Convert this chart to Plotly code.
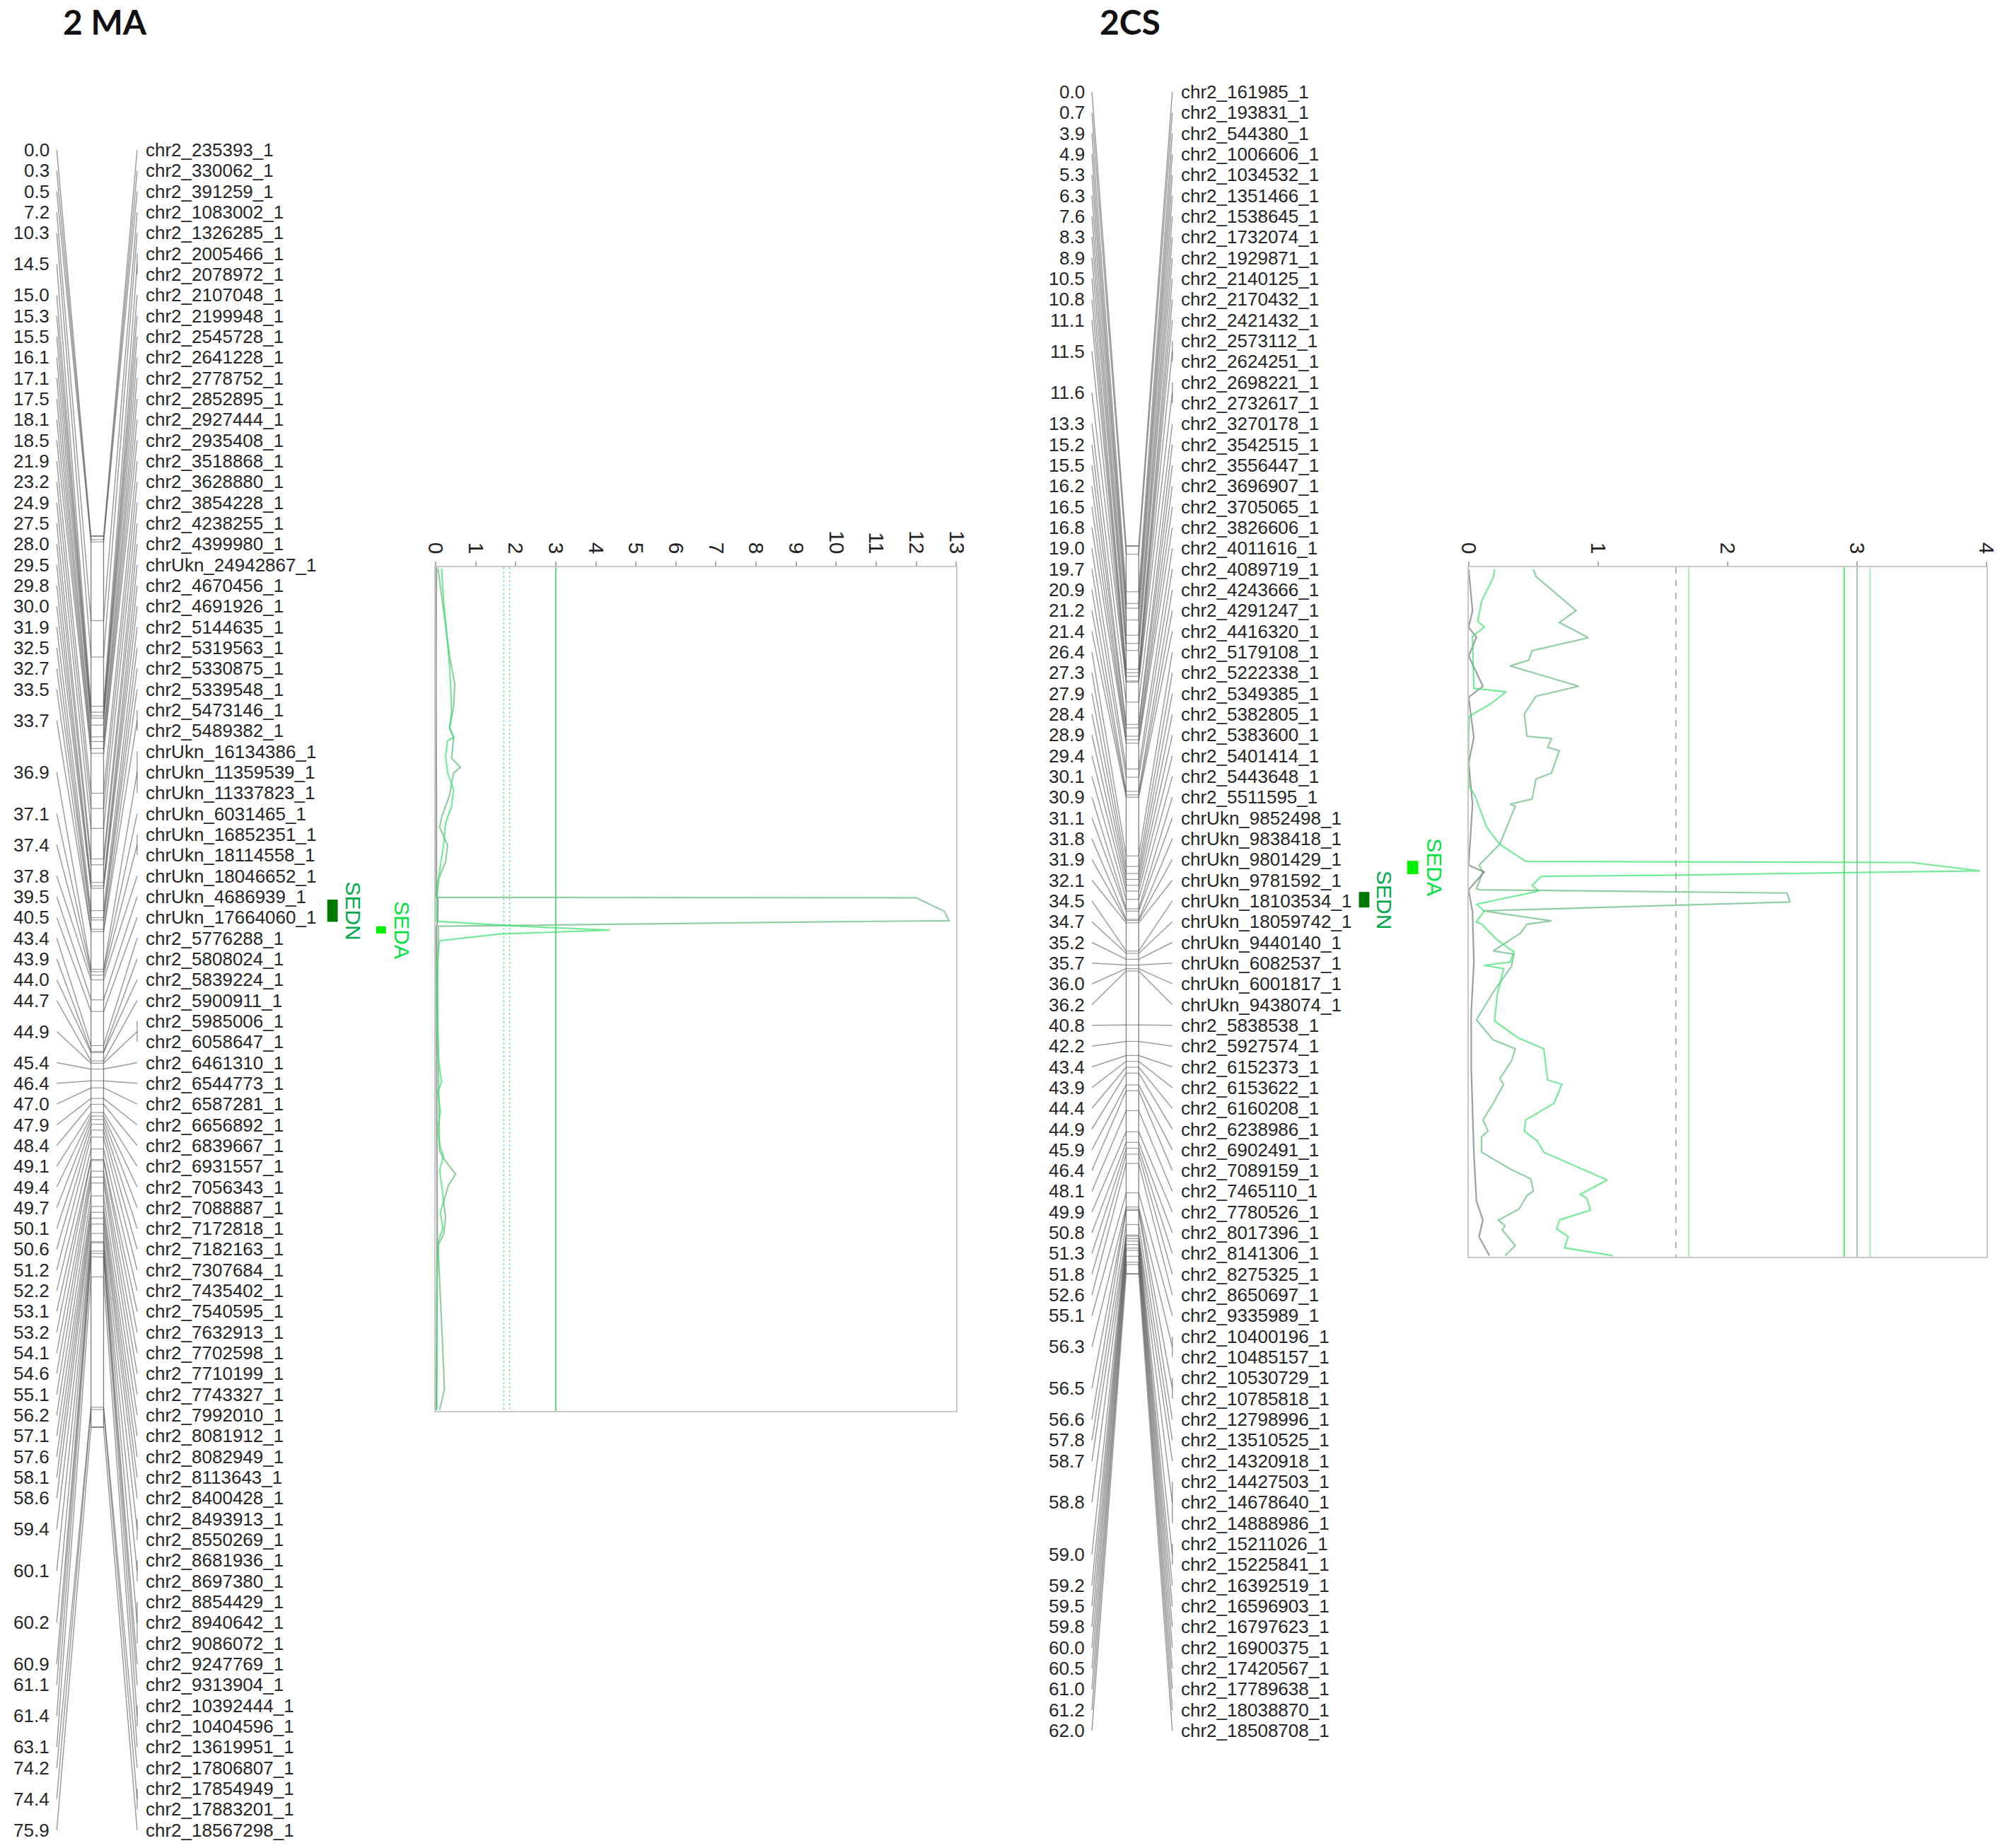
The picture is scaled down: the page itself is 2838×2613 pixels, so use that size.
import plotly.graph_objects as go

# ---------------------------------------------------------------- data
map1_title = "2 MA"
map1_markers = [
    "chr2_235393_1", "chr2_330062_1", "chr2_391259_1", "chr2_1083002_1", "chr2_1326285_1",
    "chr2_2005466_1", "chr2_2078972_1", "chr2_2107048_1", "chr2_2199948_1", "chr2_2545728_1",
    "chr2_2641228_1", "chr2_2778752_1", "chr2_2852895_1", "chr2_2927444_1", "chr2_2935408_1",
    "chr2_3518868_1", "chr2_3628880_1", "chr2_3854228_1", "chr2_4238255_1", "chr2_4399980_1",
    "chrUkn_24942867_1", "chr2_4670456_1", "chr2_4691926_1", "chr2_5144635_1", "chr2_5319563_1",
    "chr2_5330875_1", "chr2_5339548_1", "chr2_5473146_1", "chr2_5489382_1", "chrUkn_16134386_1",
    "chrUkn_11359539_1", "chrUkn_11337823_1", "chrUkn_6031465_1", "chrUkn_16852351_1", "chrUkn_18114558_1",
    "chrUkn_18046652_1", "chrUkn_4686939_1", "chrUkn_17664060_1", "chr2_5776288_1", "chr2_5808024_1",
    "chr2_5839224_1", "chr2_5900911_1", "chr2_5985006_1", "chr2_6058647_1", "chr2_6461310_1",
    "chr2_6544773_1", "chr2_6587281_1", "chr2_6656892_1", "chr2_6839667_1", "chr2_6931557_1",
    "chr2_7056343_1", "chr2_7088887_1", "chr2_7172818_1", "chr2_7182163_1", "chr2_7307684_1",
    "chr2_7435402_1", "chr2_7540595_1", "chr2_7632913_1", "chr2_7702598_1", "chr2_7710199_1",
    "chr2_7743327_1", "chr2_7992010_1", "chr2_8081912_1", "chr2_8082949_1", "chr2_8113643_1",
    "chr2_8400428_1", "chr2_8493913_1", "chr2_8550269_1", "chr2_8681936_1", "chr2_8697380_1",
    "chr2_8854429_1", "chr2_8940642_1", "chr2_9086072_1", "chr2_9247769_1", "chr2_9313904_1",
    "chr2_10392444_1", "chr2_10404596_1", "chr2_13619951_1", "chr2_17806807_1", "chr2_17854949_1",
    "chr2_17883201_1", "chr2_18567298_1",
]
map1_cm = [
    0.0, 0.3, 0.5, 7.2, 10.3, 14.5, 14.5, 15.0, 15.3, 15.5,
    16.1, 17.1, 17.5, 18.1, 18.5, 21.9, 23.2, 24.9, 27.5, 28.0,
    29.5, 29.8, 30.0, 31.9, 32.5, 32.7, 33.5, 33.7, 33.7, 36.9,
    36.9, 36.9, 37.1, 37.4, 37.4, 37.8, 39.5, 40.5, 43.4, 43.9,
    44.0, 44.7, 44.9, 44.9, 45.4, 46.4, 47.0, 47.9, 48.4, 49.1,
    49.4, 49.7, 50.1, 50.6, 51.2, 52.2, 53.1, 53.2, 54.1, 54.6,
    55.1, 56.2, 57.1, 57.6, 58.1, 58.6, 59.4, 59.4, 60.1, 60.1,
    60.2, 60.2, 60.2, 60.9, 61.1, 61.4, 61.4, 63.1, 74.2, 74.4,
    74.4, 75.9,
]

map2_title = "2CS"
map2_markers = [
    "chr2_161985_1", "chr2_193831_1", "chr2_544380_1", "chr2_1006606_1", "chr2_1034532_1",
    "chr2_1351466_1", "chr2_1538645_1", "chr2_1732074_1", "chr2_1929871_1", "chr2_2140125_1",
    "chr2_2170432_1", "chr2_2421432_1", "chr2_2573112_1", "chr2_2624251_1", "chr2_2698221_1",
    "chr2_2732617_1", "chr2_3270178_1", "chr2_3542515_1", "chr2_3556447_1", "chr2_3696907_1",
    "chr2_3705065_1", "chr2_3826606_1", "chr2_4011616_1", "chr2_4089719_1", "chr2_4243666_1",
    "chr2_4291247_1", "chr2_4416320_1", "chr2_5179108_1", "chr2_5222338_1", "chr2_5349385_1",
    "chr2_5382805_1", "chr2_5383600_1", "chr2_5401414_1", "chr2_5443648_1", "chr2_5511595_1",
    "chrUkn_9852498_1", "chrUkn_9838418_1", "chrUkn_9801429_1", "chrUkn_9781592_1", "chrUkn_18103534_1",
    "chrUkn_18059742_1", "chrUkn_9440140_1", "chrUkn_6082537_1", "chrUkn_6001817_1", "chrUkn_9438074_1",
    "chr2_5838538_1", "chr2_5927574_1", "chr2_6152373_1", "chr2_6153622_1", "chr2_6160208_1",
    "chr2_6238986_1", "chr2_6902491_1", "chr2_7089159_1", "chr2_7465110_1", "chr2_7780526_1",
    "chr2_8017396_1", "chr2_8141306_1", "chr2_8275325_1", "chr2_8650697_1", "chr2_9335989_1",
    "chr2_10400196_1", "chr2_10485157_1", "chr2_10530729_1", "chr2_10785818_1", "chr2_12798996_1",
    "chr2_13510525_1", "chr2_14320918_1", "chr2_14427503_1", "chr2_14678640_1", "chr2_14888986_1",
    "chr2_15211026_1", "chr2_15225841_1", "chr2_16392519_1", "chr2_16596903_1", "chr2_16797623_1",
    "chr2_16900375_1", "chr2_17420567_1", "chr2_17789638_1", "chr2_18038870_1", "chr2_18508708_1",
]
map2_cm = [
    0.0, 0.7, 3.9, 4.9, 5.3, 6.3, 7.6, 8.3, 8.9, 10.5,
    10.8, 11.1, 11.5, 11.5, 11.6, 11.6, 13.3, 15.2, 15.5, 16.2,
    16.5, 16.8, 19.0, 19.7, 20.9, 21.2, 21.4, 26.4, 27.3, 27.9,
    28.4, 28.9, 29.4, 30.1, 30.9, 31.1, 31.8, 31.9, 32.1, 34.5,
    34.7, 35.2, 35.7, 36.0, 36.2, 40.8, 42.2, 43.4, 43.9, 44.4,
    44.9, 45.9, 46.4, 48.1, 49.9, 50.8, 51.3, 51.8, 52.6, 55.1,
    56.3, 56.3, 56.5, 56.5, 56.6, 57.8, 58.7, 58.8, 58.8, 58.8,
    59.0, 59.0, 59.2, 59.5, 59.8, 60.0, 60.5, 61.0, 61.2, 62.0,
]

# LOD profiles for map 1 (position in cM, LOD)
lod1_sedn_cm = [0.1, 4, 8, 10.5, 12.5, 14.5, 15.3, 17.2, 18.0, 18.5, 20.5, 22.5, 23.4, 25.0, 26.5,
                28.0, 29.70, 29.74, 30.96, 31.8, 31.9, 32.3, 34.0, 38.0, 42.0, 46.0, 50.0, 52.5,
                53.2, 54.6, 55.6, 57.1, 58.5, 60.0, 61.0, 64.0, 68.0, 72.0, 74.0, 75.8]
lod1_sedn = [0.06, 0.2, 0.35, 0.48, 0.45, 0.35, 0.45, 0.40, 0.62, 0.45, 0.35, 0.15, 0.10, 0.30, 0.25,
             0.08, 0.03, 12.0, 12.7, 12.82, 9.8, 0.07, 0.06, 0.05, 0.06, 0.08, 0.1, 0.1,
             0.2, 0.5, 0.32, 0.2, 0.25, 0.2, 0.06, 0.1, 0.16, 0.2, 0.22, 0.1]
lod1_seda_cm = [0.1, 3, 6, 9, 11, 13, 14.4, 15.3, 15.6, 17, 18.5, 20, 21.5, 23, 25, 27, 28.5, 30,
                31.85, 32.3, 32.65, 33.0, 33.6, 35, 38, 42, 44.5, 46.3, 47.2, 49, 50.5, 52, 53.0,
                54.2, 55.5, 57.0, 58.0, 59.5, 60.5, 62, 66, 70, 74, 75.8]
lod1_seda = [0.15, 0.2, 0.28, 0.35, 0.38, 0.4, 0.35, 0.45, 0.3, 0.25, 0.3, 0.45, 0.4, 0.25, 0.2, 0.12,
             0.05, 0.02, 0.02, 2.1, 4.35, 1.6, 0.1, 0.05, 0.04, 0.05, 0.08, 0.15, 0.06, 0.12, 0.05,
             0.1, 0.2, 0.1, 0.15, 0.2, 0.12, 0.18, 0.08, 0.05, 0.03, 0.04, 0.03, 0.03]
lod1_other_cm = [0, 10, 20, 29.6, 29.9, 31.9, 32.4, 40, 50, 60, 70, 75.8]
lod1_other = [0.02, 0.01, 0.02, 0.02, 0.06, 0.05, 0.02, 0.02, 0.03, 0.04, 0.02, 0.02]
lod1_ticks = list(range(0, 14))
lod1_max = 13
lod1_thr_dotted = [1.7, 1.85]
lod1_thr_solid = [3.0]

# LOD profiles for map 2
lod2_sedn_cm = [0.19, 0.83, 3.9, 4.96, 6.34, 7.5, 8.35, 8.88, 10.7, 11.6, 13.2, 15.2, 15.4, 16.2, 16.5,
                18.5, 19.05, 20.85, 21.3, 21.5, 24.9, 26.8, 27.4, 28.9, 29.0, 29.3, 30.1, 30.9, 31.8,
                32.1, 32.9, 34.5, 34.8, 35.9, 38.2, 40.7, 42.5, 43.3, 44.4, 46.0, 46.5, 48.2, 49.7,
                50.7, 51.2, 52.6, 54.1, 55.0, 56.1, 56.5, 57.7, 58.7, 59.2, 59.6, 61.0, 61.9]
lod2_sedn = [0.50, 0.52, 0.83, 0.70, 0.925, 0.49, 0.465, 0.32, 0.85, 0.52, 0.43, 0.45, 0.64, 0.61, 0.70,
             0.64, 0.52, 0.49, 0.32, 0.36, 0.24, 0.08, 0.11, 0.06, 0.08, 2.46, 2.48, 0.11, 0.64,
             0.45, 0.4, 0.19, 0.35, 0.33, 0.19, 0.06, 0.19, 0.36, 0.33, 0.24, 0.27, 0.19, 0.11,
             0.15, 0.10, 0.10, 0.32, 0.48, 0.50, 0.45, 0.39, 0.23, 0.28, 0.26, 0.36, 0.28]
lod2_seda_cm = [0.19, 0.93, 3.05, 4.85, 5.38, 6.23, 10.9, 11.2, 12.2, 13.4, 15.3, 19.6, 20.6, 23.4, 24.9,
                26.45, 26.55, 27.3, 27.7, 27.8, 28.6, 29.1, 29.4, 30.3, 30.9, 31.9, 32.1, 33.5, 34.6,
                35.5, 35.8, 36.1, 38.5, 40.8, 42.3, 43.3, 46.1, 46.5, 48.2, 49.7, 50.7, 51.6, 52.6,
                55.1, 56.4, 56.7, 57.8, 58.7, 59.5, 60.2, 61.2, 61.9]
lod2_seda = [0.2, 0.19, 0.1, 0.07, 0.12, 0.03, 0.04, 0.29, 0.18, 0.005, 0.0, 0.0, 0.05, 0.14, 0.24,
             0.44, 3.42, 3.95, 1.50, 0.56, 0.49, 0.54, 0.43, 0.06, 0.12, 0.06, 0.1, 0.22, 0.35,
             0.32, 0.12, 0.27, 0.22, 0.2, 0.38, 0.58, 0.61, 0.72, 0.66, 0.44, 0.43, 0.53, 0.58,
             1.07, 0.86, 0.91, 0.94, 0.70, 0.68, 0.77, 0.74, 1.11]
lod2_other_cm = [0.19, 3.9, 5.4, 6.3, 8.0, 10.7, 11.7, 15.3, 17.6, 21.3, 26.8, 27.4, 29.0, 31.0, 35.6,
                 40, 45, 52.6, 57, 58.7, 60.2, 61.9]
lod2_other = [0.0, 0.03, 0.0, 0.06, 0.0, 0.11, 0.0, 0.04, 0.0, 0.03, 0.0, 0.12, 0.0, 0.03, 0.04,
              0.02, 0.02, 0.04, 0.06, 0.11, 0.08, 0.16]
lod2_ticks = [0, 1, 2, 3, 4]
lod2_max = 4
lod2_thr_gray_dash = [1.6]
lod2_thr_light = [1.7, 3.1]
lod2_thr_green = [2.9]
lod2_thr_gray = [3.0]

# QTL intervals (cM on the LOD scale)
qtl1_names = ["SEDN", "SEDA"]
qtl1_start = [29.9, 32.3]
qtl1_end = [31.9, 32.95]
qtl2_names = ["SEDA", "SEDN"]
qtl2_start = [26.4, 29.2]
qtl2_end = [27.6, 30.6]

# ---------------------------------------------------------------- layout / styles
W, H = 2838, 2613
STEP = 29.33          # px between marker names
PX_CM = 16.6          # px per cM on chromosome bar
LBL_R, CONN_L, BAR_L, BAR_R, CONN_R, NAME_X = 72, 80, 129, 147, 195, 205
DX1, DX2 = -15, 1466  # horizontal placement of the two maps
LINE_COL = "rgba(85,85,85,0.58)"
TXT_COL = "#262626"
FONT = "Liberation Sans, Arial, sans-serif"
FS = 26

C_SEDN_LINE = "rgba(110,190,135,0.75)"
C_SEDA_LINE = "rgba(60,225,110,0.7)"
C_OTHER_LINE = "rgba(120,130,122,0.75)"
C_SEDN_BOX = "#007a00"
C_SEDN_TXT = "#00a84a"
C_SEDA_BOX = "#00f000"
C_SEDA_TXT = "#00e040"
QTL_COL = {"SEDN": (C_SEDN_BOX, C_SEDN_TXT), "SEDA": (C_SEDA_BOX, C_SEDA_TXT)}

fig = go.Figure()
annotations = []
shapes = []


def add_line(xs, ys, color=LINE_COL, width=1.5, xa="x", ya="y", dash=None):
    fig.add_trace(go.Scatter(x=xs, y=ys, mode="lines", xaxis=xa, yaxis=ya,
                             line=dict(color=color, width=width, dash=dash),
                             hoverinfo="skip", showlegend=False))


def draw_map(markers, cms, title, dx, slot_top, bar_top, title_x):
    n = len(markers)
    slot_y = [slot_top + i * STEP for i in range(n)]

    def bar_y(c):
        return bar_top + c * PX_CM

    groups = []
    i = 0
    while i < n:
        j = i
        while j + 1 < n and cms[j + 1] == cms[i]:
            j += 1
        groups.append((i, j))
        i = j + 1
    for (i, j) in groups:
        c = cms[i]
        ym = (slot_y[i] + slot_y[j]) / 2
        by = bar_y(c)
        add_line([dx + CONN_L, dx + BAR_L], [ym, by])
        add_line([dx + BAR_R, dx + CONN_R], [by, ym])
        if j > i:
            add_line([dx + CONN_R, dx + CONN_R], [slot_y[i], slot_y[j]])
        annotations.append(dict(x=dx + LBL_R, y=ym, xref="x", yref="y", text=f"{c:.1f}",
                                showarrow=False, xanchor="right", yanchor="middle",
                                font=dict(family=FONT, size=FS, color=TXT_COL)))
    for k in range(n):
        annotations.append(dict(x=dx + NAME_X, y=slot_y[k], xref="x", yref="y", text=markers[k],
                                showarrow=False, xanchor="left", yanchor="middle",
                                font=dict(family=FONT, size=FS, color=TXT_COL)))
    # chromosome bar
    y0, y1 = bar_y(cms[0]), bar_y(cms[-1])
    add_line([dx + BAR_L, dx + BAR_R, dx + BAR_R, dx + BAR_L, dx + BAR_L], [y0, y0, y1, y1, y0],
             color="rgba(100,100,100,0.8)", width=1.4)
    tx, ty = [], []
    for c in sorted(set(cms)):
        tx += [dx + BAR_L, dx + BAR_R, None]
        ty += [bar_y(c), bar_y(c), None]
    add_line(tx, ty, color="rgba(100,100,100,0.65)", width=1.2)
    annotations.append(dict(x=title_x, y=1, xref="x", yref="y", text=f"<b>{title}</b>",
                            showarrow=False, xanchor="center", yanchor="top", borderpad=0,
                            font=dict(family="Lato, Open Sans, sans-serif", size=48, color="#111")))


draw_map(map1_markers, map1_cm, map1_title, DX1, 212, 758, 134)
draw_map(map2_markers, map2_cm, map2_title, DX2, 130, 772, 1601)

# ---------------------------------------------------------------- LOD panels
def lod_panel(xa, ya, ymax, profiles, thresholds):
    for (xs, col, wd, dash) in thresholds:
        for t in xs:
            add_line([t, t], [0, ymax], color=col, width=wd, xa=xa, ya=ya, dash=dash)
    for (cm, lod, col) in profiles:
        add_line(lod, cm, color=col, width=2.2, xa=xa, ya=ya)


lod_panel("x2", "y2", 75.9,
          [(lod1_sedn_cm, lod1_sedn, C_SEDN_LINE),
           (lod1_other_cm, lod1_other, C_OTHER_LINE),
           (lod1_seda_cm, lod1_seda, C_SEDA_LINE)],
          [(lod1_thr_dotted, "rgba(140,225,160,0.85)", 2, "dot"),
           (lod1_thr_solid, "rgba(80,215,115,0.9)", 2, None)])
lod_panel("x3", "y3", 62.0,
          [(lod2_sedn_cm, lod2_sedn, C_SEDN_LINE),
           (lod2_other_cm, lod2_other, C_OTHER_LINE),
           (lod2_seda_cm, lod2_seda, C_SEDA_LINE)],
          [(lod2_thr_gray_dash, "rgba(130,150,135,0.85)", 1.6, "dash"),
           (lod2_thr_light, "rgba(130,235,160,0.85)", 1.6, None),
           (lod2_thr_green, "rgba(70,225,110,0.9)", 2, None),
           (lod2_thr_gray, "rgba(140,175,150,0.9)", 1.6, None)])


# QTL boxes and labels
def qtl(names, starts, ends, ya, box_x, txt_x):
    for k, nm in enumerate(names):
        bc, tc = QTL_COL[nm]
        shapes.append(dict(type="rect", xref="x", yref=ya, x0=box_x[k][0], x1=box_x[k][1],
                           y0=starts[k], y1=ends[k], fillcolor=bc, line=dict(width=0), layer="above"))
        annotations.append(dict(x=txt_x[k], y=(starts[k] + ends[k]) / 2, xref="x", yref=ya,
                                text=nm, textangle=90, showarrow=False,
                                xanchor="center", yanchor="middle",
                                font=dict(family=FONT, size=30, color=tc)))


qtl(qtl1_names, qtl1_start, qtl1_end, "y2",
    [(452, 467), (522, 536)], [489, 559])
qtl(qtl2_names, qtl2_start, qtl2_end, "y3",
    [(1997, 2013), (1928, 1943)], [2036, 1965])


def xdom(a, b):
    return [a / W, b / W]


def ydom(top, bottom):
    return [1 - bottom / H, 1 - top / H]


frame = dict(showline=True, mirror=True, linecolor="rgb(200,200,200)", linewidth=2,
             showgrid=False, zeroline=False)
tickstyle = dict(side="top", tickangle=90, ticks="outside", ticklen=6, tickwidth=1.5,
                 tickcolor="rgb(170,170,170)", tickfont=dict(family=FONT, size=30, color="#222"))
fig.update_layout(
    width=W, height=H, margin=dict(l=0, r=0, t=0, b=0),
    paper_bgcolor="white", plot_bgcolor="rgba(0,0,0,0)",
    xaxis=dict(range=[0, W], domain=[0, 1], visible=False, fixedrange=True),
    yaxis=dict(range=[H, 0], domain=[0, 1], visible=False, fixedrange=True),
    xaxis2=dict(domain=xdom(607, 1352), range=[0, lod1_max], anchor="y2",
                tickvals=lod1_ticks, **tickstyle, **frame),
    yaxis2=dict(domain=ydom(802, 1995), range=[75.9, 0], anchor="x2",
                showticklabels=False, ticks="", **frame),
    xaxis3=dict(domain=xdom(2085, 2826), range=[0, lod2_max], anchor="y3",
                tickvals=lod2_ticks, **tickstyle, **frame),
    yaxis3=dict(domain=ydom(802, 1777), range=[62.0, 0], anchor="x3",
                showticklabels=False, ticks="", **frame),
    annotations=annotations, shapes=shapes, showlegend=False,
)

fig.write_html("out.html", config={"displayModeBar": False},
               post_script="document.body.style.margin='0px';")
